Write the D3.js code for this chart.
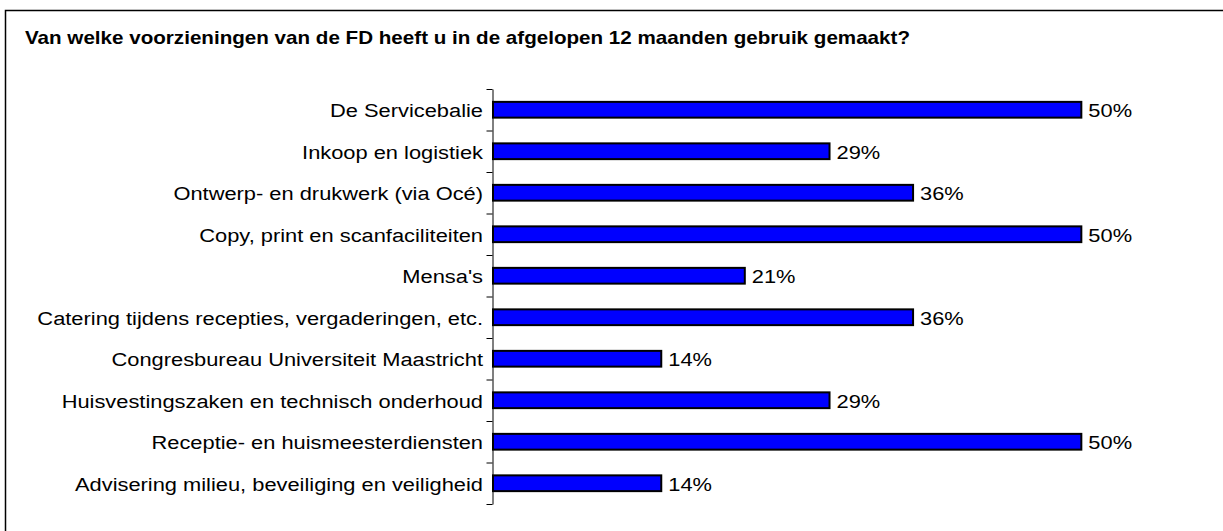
<!DOCTYPE html>
<html>
<head>
<meta charset="utf-8">
<script src="https://cdn.jsdelivr.net/npm/d3@7"></script>
<style>
  body { margin: 0; background: #fff; }
  text { font-family: "Liberation Sans", Arial, sans-serif; fill: #000; }
</style>
</head>
<body>
<svg id="chart"></svg>
<script>
// chart title
var title = 'Van welke voorzieningen van de FD heeft u in de afgelopen 12 maanden gebruik gemaakt?';

// categories, top to bottom
var categories = [
    'De Servicebalie',
    'Inkoop en logistiek',
    'Ontwerp- en drukwerk (via Océ)',
    'Copy, print en scanfaciliteiten',
    "Mensa's",
    'Catering tijdens recepties, vergaderingen, etc.',
    'Congresbureau Universiteit Maastricht',
    'Huisvestingszaken en technisch onderhoud',
    'Receptie- en huismeesterdiensten',
    'Advisering milieu, beveiliging en veiligheid'
];

// percentages (labels show them rounded)
var values = [50.0, 28.6, 35.7, 50.0, 21.4, 35.7, 14.3, 28.6, 50.0, 14.3];

var width = 1223, height = 531;
var stretch = 1.15; // the original text is a bit wider than Arial

var svg = d3.select('#chart')
    .attr('width', width)
    .attr('height', height);

// outer frame
svg.append('rect')
    .attr('x', 5.5)
    .attr('y', 10.5)
    .attr('width', 1230)
    .attr('height', 540)
    .attr('fill', 'none')
    .attr('stroke', '#000')
    .attr('stroke-width', 1.5);

svg.append('text')
    .attr('transform', 'translate(25,44) scale(1.178,1)')
    .attr('font-size', 17.5)
    .attr('font-weight', 'bold')
    .text(title);

var x = d3.scaleLinear()
    .domain([0, 60])
    .range([493, 1199]);

var y = d3.scaleBand()
    .domain(categories)
    .range([89, 504])
    .paddingInner(0.62)
    .paddingOuter(0.31);

var data = categories.map(function(c, i) {
    return { name: c, value: values[i] };
});

// bars
svg.selectAll('rect.bar')
    .data(data)
    .enter()
    .append('rect')
    .attr('class', 'bar')
    .attr('x', x(0))
    .attr('y', function(d) { return y(d.name); })
    .attr('width', function(d) { return x(d.value) - x(0); })
    .attr('height', y.bandwidth())
    .attr('fill', '#0000ff')
    .attr('stroke', '#000')
    .attr('stroke-width', 2);

// value labels
svg.selectAll('text.val')
    .data(data)
    .enter()
    .append('text')
    .attr('class', 'val')
    .attr('transform', function(d) {
        return 'translate(' + (x(d.value) + 7) + ',' + (y(d.name) + y.bandwidth() / 2) + ') scale(' + stretch + ',1)';
    })
    .attr('dy', '0.4em')
    .attr('font-size', 19)
    .text(function(d) { return Math.round(d.value) + '%'; });

// category labels
svg.selectAll('text.cat')
    .data(data)
    .enter()
    .append('text')
    .attr('class', 'cat')
    .attr('transform', function(d) {
        return 'translate(483,' + (y(d.name) + y.bandwidth() / 2) + ') scale(' + stretch + ',1)';
    })
    .attr('dy', '0.4em')
    .attr('text-anchor', 'end')
    .attr('font-size', 19)
    .text(function(d) { return d.name; });

// category axis with ticks between the bands
var edges = d3.scaleLinear()
    .domain([0, categories.length])
    .range([89, 504]);

svg.append('g')
    .attr('transform', 'translate(492.5,0)')
    .call(d3.axisLeft(edges)
        .tickValues(d3.range(categories.length + 1))
        .tickSize(6)
        .tickSizeOuter(0)
        .tickFormat(''))
    .call(function(g) {
        g.selectAll('line').attr('stroke', '#000');
        g.select('.domain').attr('stroke', '#000');
    });
</script>
</body>
</html>
